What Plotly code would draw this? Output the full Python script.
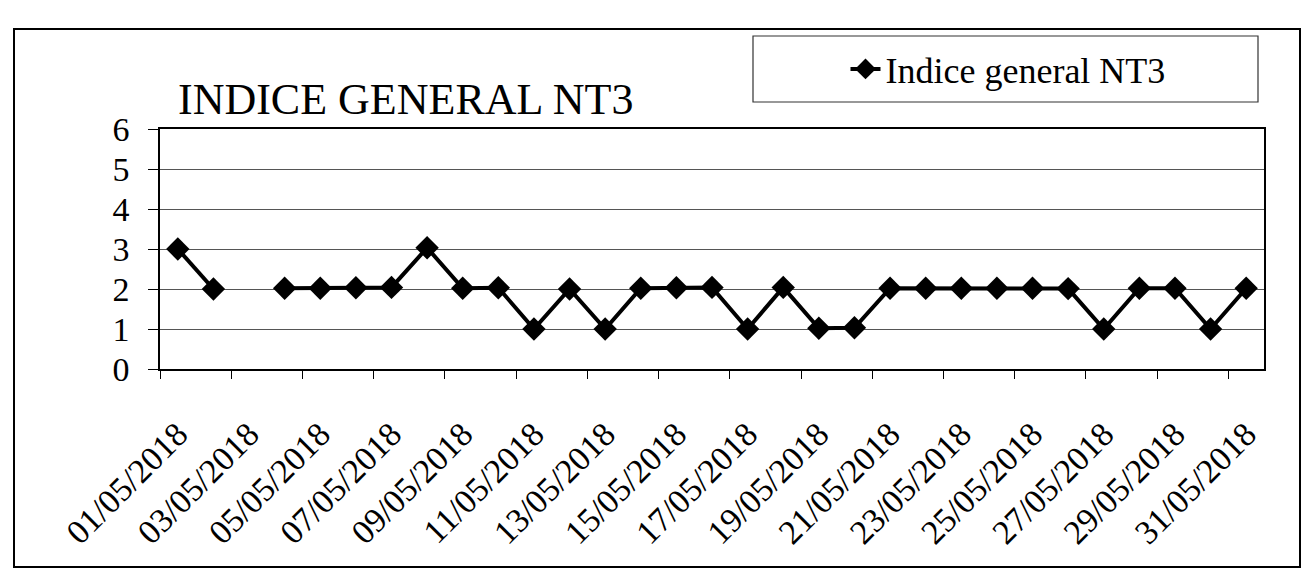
import plotly.graph_objects as go

# ---- data ----
dates = [f"{d:02d}/05/2018" for d in range(1, 32)]
values = [3.0, 2.0, None, 2.02, 2.02, 2.03, 2.04, 3.03, 2.02, 2.03, 1.0,
          2.0, 1.0, 2.02, 2.03, 2.04, 1.0, 2.04, 1.02, 1.03, 2.02, 2.02,
          2.02, 2.02, 2.02, 2.01, 1.0, 2.02, 2.02, 1.0, 2.02]
series_name = "Indice general NT3"
title_text = "INDICE GENERAL NT3"
y_ticks = [0, 1, 2, 3, 4, 5, 6]

x_pos = list(range(1, len(dates) + 1))
label_pos = x_pos[::2]
label_txt = dates[::2]

W, H = 1305, 584
L, R, T, B = 160, 1264, 129, 369  # plot area in px


def px_x(px):
    return (px - L) / (R - L)


def px_y(py):
    return (B - py) / (B - T)


FONT = "Liberation Serif"

fig = go.Figure()
fig.add_trace(go.Scatter(
    x=x_pos, y=values, name=series_name, mode="lines+markers",
    connectgaps=False,
    line=dict(color="black", width=4),
    marker=dict(symbol="diamond", size=18, color="black"),
))

fig.update_layout(
    width=W, height=H,
    margin=dict(l=L, r=W - R, t=T, b=H - B, pad=0),
    paper_bgcolor="white", plot_bgcolor="white",
    font=dict(family=FONT, color="black"),
    title=dict(text=title_text, font=dict(size=44, family=FONT, color="black"),
               x=178 / W, xref="container", xanchor="left",
               y=1 - 99 / H, yref="container", yanchor="middle"),
    showlegend=True,
    legend=dict(x=px_x(1008), xanchor="center", y=px_y(69), yanchor="middle",
                bgcolor="rgba(0,0,0,0)", borderwidth=0,
                font=dict(size=36, family=FONT, color="black")),
    xaxis=dict(
        range=[0.5, len(dates) + 0.5],
        tickmode="array", tickvals=label_pos, ticktext=label_txt,
        tickangle=-45, ticks="", showgrid=False, zeroline=False,
        showline=True, linecolor="black", linewidth=1.5, mirror=True,
        tickfont=dict(size=34, family=FONT, color="black"),
        ticklabelstandoff=30,
        minor=dict(tickmode="linear", tick0=0.5, dtick=2, ticks="outside",
                   ticklen=8, tickcolor="black", tickwidth=1.2, showgrid=False),
    ),
    yaxis=dict(
        range=[0, 6], tickmode="array", tickvals=y_ticks,
        ticks="outside", ticklen=10, tickcolor="black", tickwidth=1.2,
        showgrid=True, gridcolor="#555", gridwidth=1, zeroline=False,
        showline=True, linecolor="black", linewidth=1.5, mirror=True,
        tickfont=dict(size=34, family=FONT, color="black"),
        ticklabelstandoff=12,
    ),
    shapes=[
        dict(type="rect", xref="paper", yref="paper",
             x0=px_x(14), x1=px_x(1300), y0=px_y(567), y1=px_y(29),
             line=dict(color="black", width=2), layer="below"),
        dict(type="rect", xref="paper", yref="paper",
             x0=px_x(753), x1=px_x(1258), y0=px_y(102), y1=px_y(36),
             line=dict(color="#333", width=1.2), layer="below"),
    ],
)

fig.write_html("out.html", config={"displayModeBar": False},
               post_script="document.body.style.margin='0';")
